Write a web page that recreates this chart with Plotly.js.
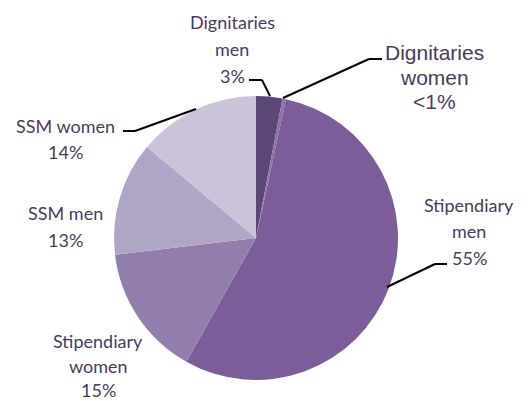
<!DOCTYPE html>
<html><head><meta charset="utf-8">
<script src="https://cdn.plot.ly/plotly-3.0.1.min.js"></script>
<style>html,body{margin:0;padding:0;background:#fff}#chart{width:530px;height:401px}</style>
</head><body><div id="chart"></div>
<script>
// Data
const categories = ["Dignitaries men", "Dignitaries women", "Stipendiary men", "Stipendiary women", "SSM men", "SSM women"];
const values = [3, 0.4, 55, 15, 13, 14];
const percentLabels = ["3%", "<1%", "55%", "15%", "13%", "14%"];
const labelLines = [
  ["Dignitaries", "men", "3%"],
  ["Dignitaries", "women", "<1%"],
  ["Stipendiary", "men", "55%"],
  ["Stipendiary", "women", "15%"],
  ["SSM men", "13%"],
  ["SSM women", "14%"]
];
const colors = ["#5c4779", "#8a73a8", "#7b5e99", "#917ead", "#b0a5c6", "#cbc4d8"];

// label placement (styling)
const W = 530, H = 401;
const labelPos = [
  {x: 232, y: 22, dy: 27, font: "Lato", size: 18},
  {x: 434, y: 52, dy: 25, font: "Liberation Sans", size: 21},
  {x: 469, y: 205, dy: 26.5, font: "Lato", size: 18},
  {x: 98, y: 341, dy: 24.5, font: "Lato", size: 18},
  {x: 65, y: 213, dy: 27, font: "Lato", size: 18},
  {x: 65, y: 126, dy: 26, font: "Lato", size: 18}
];
const leaders = [
  [[249,80],[262,80],[270,96]],
  [[283,98],[369,59],[382,59]],
  [[387,287],[435,264],[447,264]],
  null,
  null,
  [[123,131],[135,131],[196,109]]
];

const annotations = [];
labelLines.forEach((lines, i) => {
  const p = labelPos[i];
  lines.forEach((t, j) => {
    annotations.push({
      xref: "paper", yref: "paper",
      x: p.x / W, y: 1 - (p.y + j * p.dy) / H,
      xanchor: "center", yanchor: "middle",
      text: t, showarrow: false,
      font: {family: p.font, size: p.size, color: "#4a3b5e"}
    });
  });
});

const shapes = [];
leaders.forEach(pts => {
  if (!pts) return;
  for (let k = 0; k < pts.length - 1; k++) {
    shapes.push({
      type: "line", xref: "paper", yref: "paper",
      x0: pts[k][0] / W, y0: 1 - pts[k][1] / H,
      x1: pts[k+1][0] / W, y1: 1 - pts[k+1][1] / H,
      line: {color: "#000", width: 2}
    });
  }
});

const trace = {
  type: "pie",
  labels: categories,
  values: values,
  customdata: percentLabels,
  sort: false,
  direction: "clockwise",
  rotation: 0,
  textinfo: "none",
  hoverinfo: "label+text",
  marker: {colors: colors, line: {width: 0}},
  domain: {x: [114 / W, 398 / W], y: [1 - 380 / H, 1 - 96 / H]},
  showlegend: false
};

Plotly.newPlot("chart", [trace], {
  width: W, height: H,
  margin: {l: 0, r: 0, t: 0, b: 0},
  paper_bgcolor: "#fff",
  showlegend: false,
  annotations: annotations,
  shapes: shapes
}, {displayModeBar: false, staticPlot: true});
</script></body></html>
